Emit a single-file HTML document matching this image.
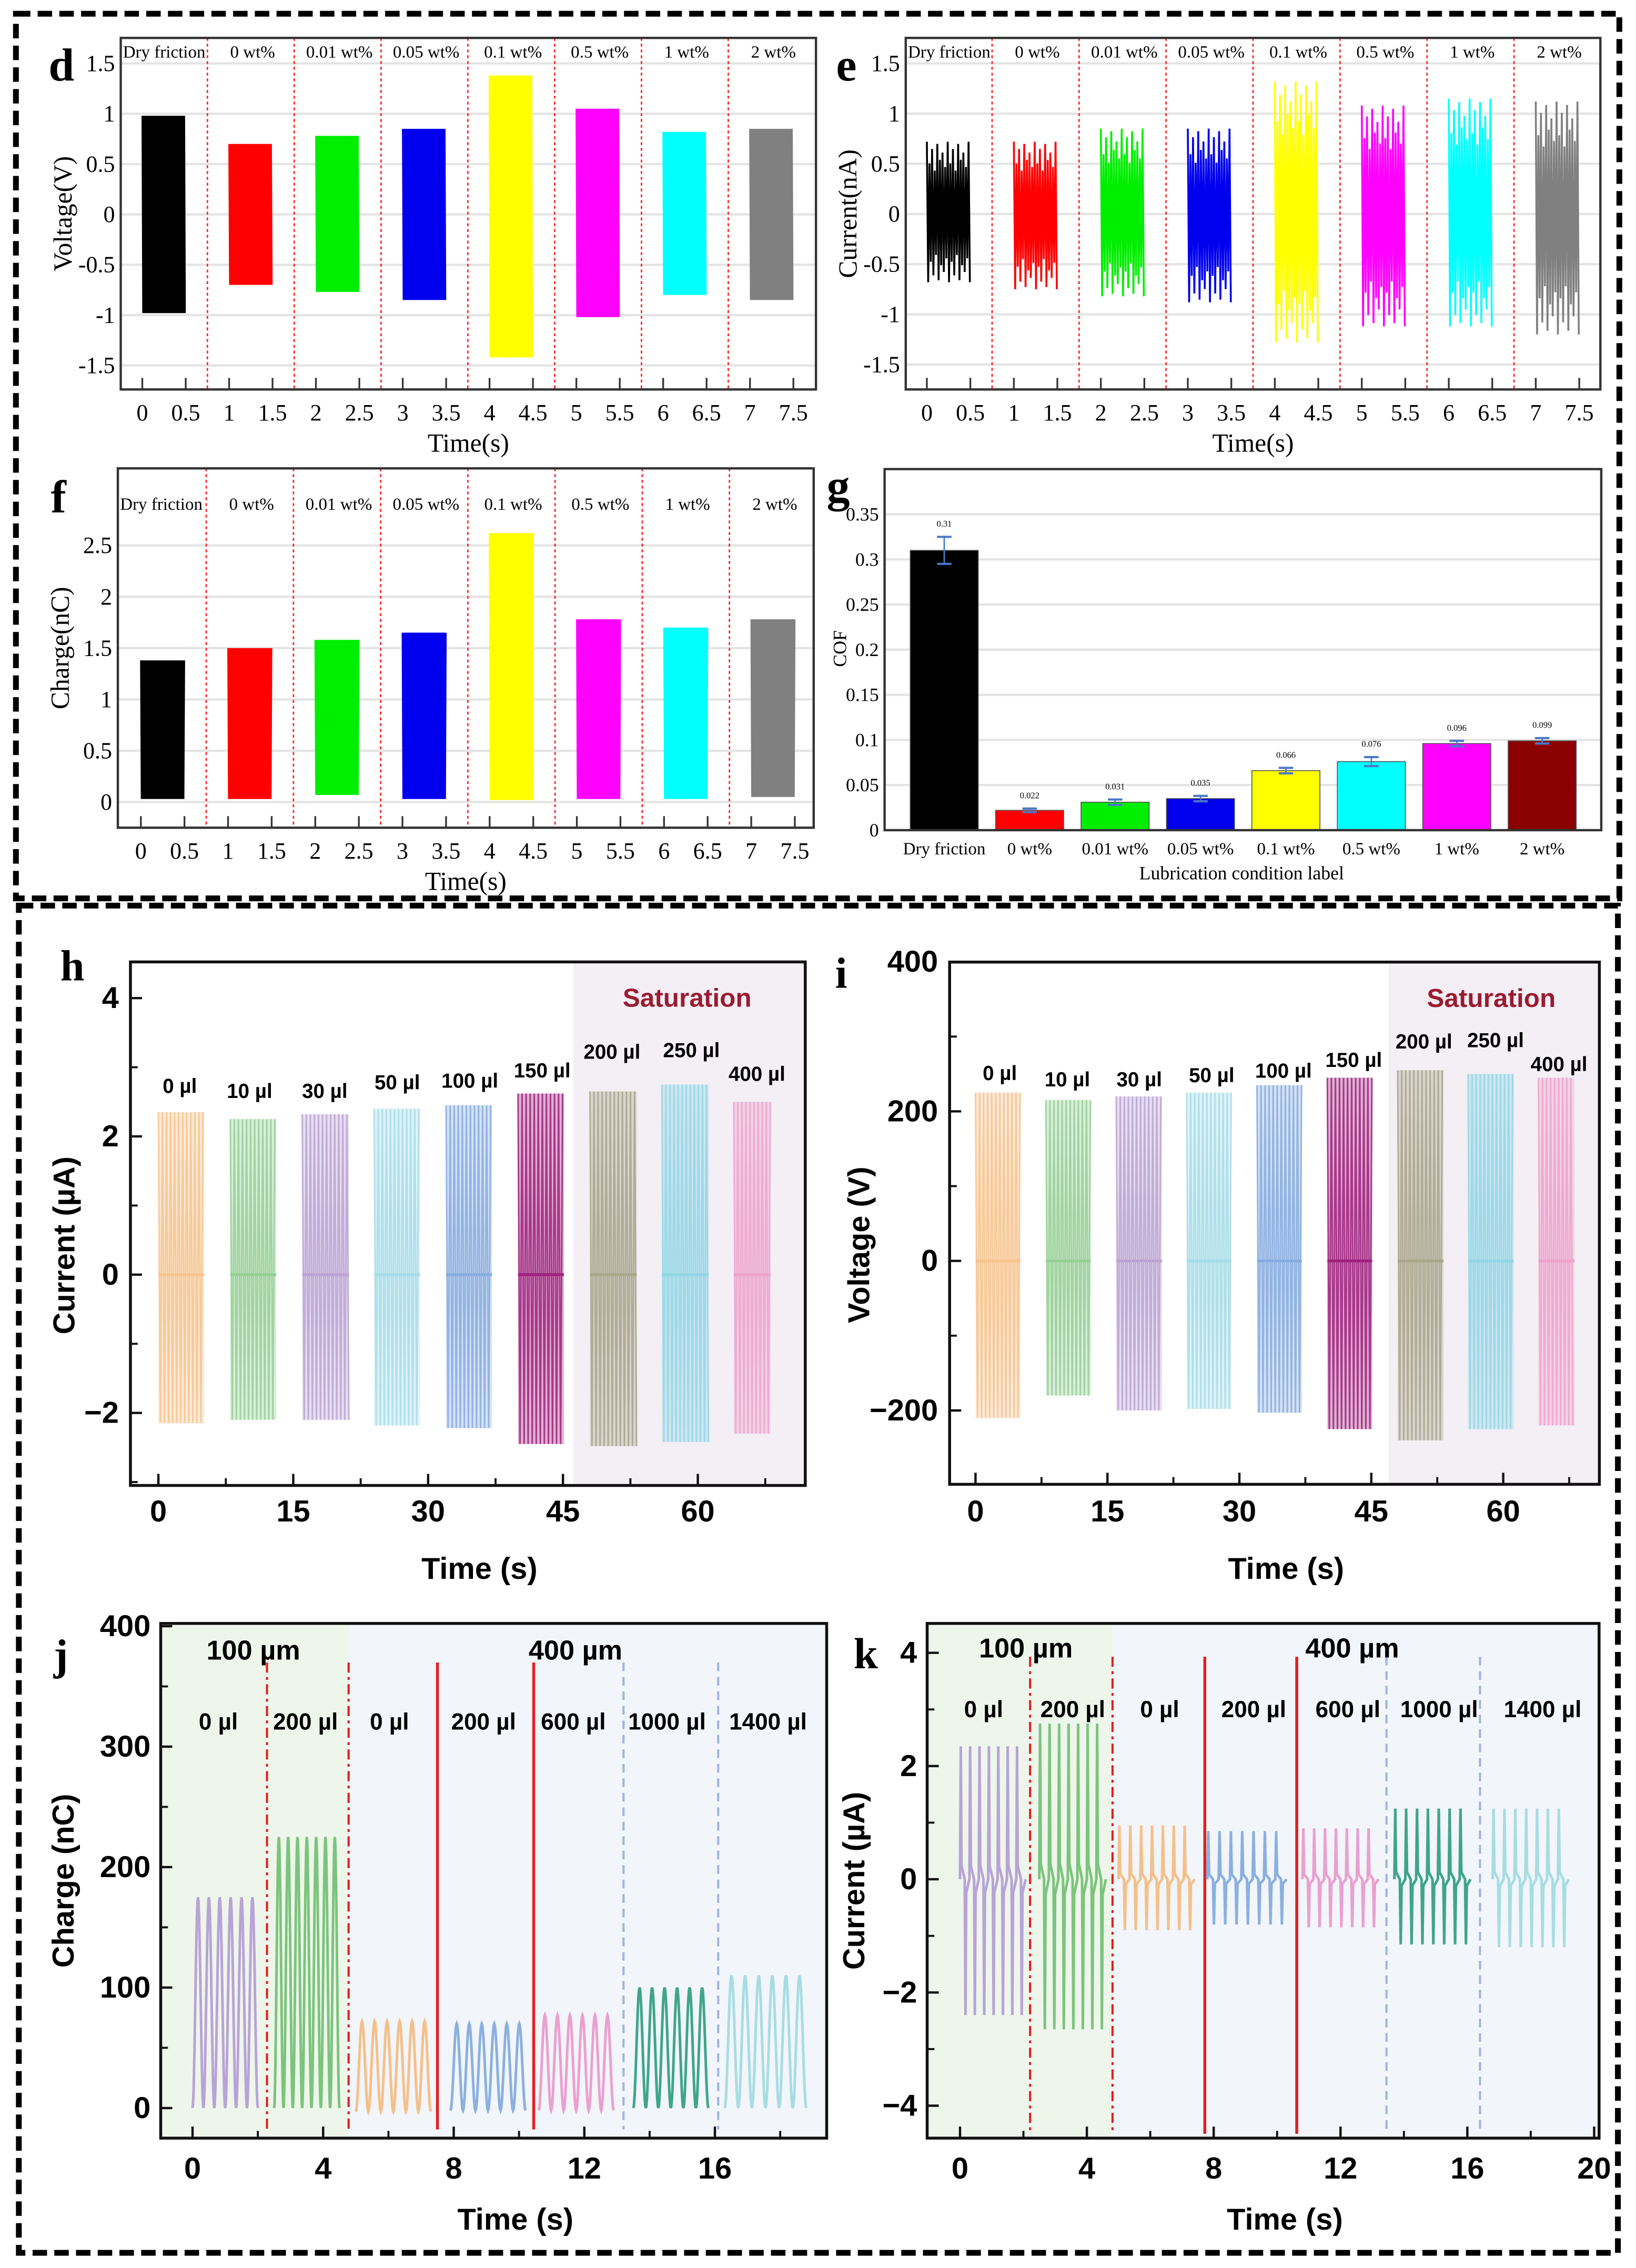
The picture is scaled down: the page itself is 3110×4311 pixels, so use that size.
<!DOCTYPE html>
<html><head><meta charset="utf-8">
<style>
html,body{margin:0;padding:0;background:#fff;}
svg{display:block;}
.serif{font-family:"Liberation Serif",serif;}
.sans{font-family:"Liberation Sans",sans-serif;font-weight:bold;}
</style></head>
<body>
<svg id="fig" xmlns="http://www.w3.org/2000/svg" width="3110" height="4311" viewBox="0 0 1130 1566.5" preserveAspectRatio="none">
<rect x="0" y="0" width="1130" height="1566.5" fill="#fff"/>
<rect x="11" y="9.5" width="1107.5" height="611" fill="none" stroke="#000" stroke-width="4" stroke-dasharray="10 5"/>
<rect x="13" y="625.5" width="1104.5" height="930.5" fill="none" stroke="#000" stroke-width="4" stroke-dasharray="10 5"/>
</svg>
<script>
// ---------- data ----------
const wtCats = ['Dry friction','0 wt%','0.01 wt%','0.05 wt%','0.1 wt%','0.5 wt%','1 wt%','2 wt%'];
const wtStart = [0,1,2,3,4,5,6,7];
const wtColors = ['#000000','#ff0000','#00ee00','#0000ee','#ffff00','#ff00ff','#00ffff','#808080'];
const dMax = [0.98,0.70,0.78,0.85,1.38,1.05,0.82,0.85];
const dMin = [-0.98,-0.70,-0.77,-0.85,-1.42,-1.02,-0.80,-0.85];
const eMax = [0.72,0.72,0.85,0.85,1.32,1.08,1.15,1.12];
const eMin = [-0.68,-0.75,-0.82,-0.88,-1.28,-1.12,-1.12,-1.20];
const fMax = [1.38,1.50,1.58,1.65,2.62,1.78,1.70,1.78];
const fMin = [0.03,0.03,0.07,0.03,0.02,0.03,0.03,0.05];
const topTicksX = [0,0.5,1,1.5,2,2.5,3,3.5,4,4.5,5,5.5,6,6.5,7,7.5];
const topTickLabelsX = ['0','0.5','1','1.5','2','2.5','3','3.5','4','4.5','5','5.5','6','6.5','7','7.5'];
const dTicksY = [1.5,1,0.5,0,-0.5,-1,-1.5];
const dTickLabelsY = ['1.5','1','0.5','0','-0.5','-1','-1.5'];
const fTicksY = [2.5,2,1.5,1,0.5,0];
const fTickLabelsY = ['2.5','2','1.5','1','0.5','0'];
const gVals = [0.31,0.022,0.031,0.035,0.066,0.076,0.096,0.099];
const gErr = [0.015,0.002,0.003,0.003,0.003,0.005,0.003,0.003];
const gValLabels = ['0.31','0.022','0.031','0.035','0.066','0.076','0.096','0.099'];
const gColors = ['#000000','#ff0000','#00ee00','#0000ee','#ffff00','#00ffff','#ff00ff','#8b0000'];
const gTicksY = [0,0.05,0.1,0.15,0.2,0.25,0.3,0.35];
const gTickLabelsY = ['0','0.05','0.1','0.15','0.2','0.25','0.3','0.35'];

const volCats = ['0 µl','10 µl','30 µl','50 µl','100 µl','150 µl','200 µl','250 µl','400 µl'];
const volStart = [0,8,16,24,32,40,48,56,64];
const volEnd = [5.1,13.1,21.2,29.1,37.1,45.1,53.2,61.2,68.1];
const volColors = ['#f6c48f','#95cf95','#bba3d3','#a6dce8','#86acdf','#a0227f','#a9a68b','#93d6e6','#eea3cc'];
const hMax = [2.35,2.25,2.32,2.40,2.45,2.62,2.65,2.75,2.50];
const hMin = [-2.15,-2.10,-2.10,-2.18,-2.22,-2.45,-2.48,-2.42,-2.30];
const iMax = [225,215,220,225,235,245,255,250,245];
const iMin = [-210,-180,-200,-198,-203,-225,-240,-225,-220];
const hiTicksX = [0,15,30,45,60];
const hiTickLabelsX = ['0','15','30','45','60'];
const hTicksY = [4,2,0,-2];
const hTickLabelsY = ['4','2','0','−2'];
const iTicksY = [400,200,0,-200];
const iTickLabelsY = ['400','200','0','−200'];

const gapCats = ['0 µl','200 µl','0 µl','200 µl','600 µl','1000 µl','1400 µl'];
const gapColors = ['#b8a3d6','#7cc47c','#f4c089','#8ab0e0','#eaa0cf','#3fa58a','#a6dde3'];
const jStart = [0,2.5,5.0,7.9,10.6,13.5,16.3];
const jEnd = [2.0,4.5,7.3,10.2,12.9,15.8,18.8];
const jMax = [175,225,72,70,77,100,110];
const jMin = [0,0,-3,-2,-2,0,0];
const jCycles = [6,7,6,6,6,6,6];
const jDividers = [2.28,4.78,7.5,10.45,13.2,16.1];
const kStart = [0,2.5,5.0,7.8,10.8,13.7,16.8];
const kEnd = [2.07,4.6,7.4,10.3,13.2,16.1,19.2];
const kMax = [2.35,2.75,0.95,0.85,0.90,1.25,1.25];
const kMin = [-2.40,-2.65,-0.90,-0.80,-0.85,-1.15,-1.20];
const kDividers = [2.21,4.81,7.72,10.62,13.45,16.4];
const dividerStyles = ['dashdot','dashdot','solid','solid','dashed','dashed'];
const jTicksX = [0,4,8,12,16];
const jTickLabelsX = ['0','4','8','12','16'];
const kTicksX = [0,4,8,12,16,20];
const kTickLabelsX = ['0','4','8','12','16','20'];
const jTicksY = [400,300,200,100,0];
const jTickLabelsY = ['400','300','200','100','0'];
const kTicksY = [4,2,0,-2,-4];
const kTickLabelsY = ['4','2','0','−2','−4'];

// ---------- helpers ----------
const NS='http://www.w3.org/2000/svg';
const svg=document.getElementById('fig');
function mk(tag,parent,name,attrs){
  const e=document.createElementNS(NS,tag);
  for(const k in attrs) e.setAttribute(k,attrs[k]);
  
  
  parent.appendChild(e);
  return e;
}
function txt(parent,name,x,y,s,size,cls,anchor,extra){
  const a={x:x,y:y,'font-size':size,'text-anchor':anchor||'middle','class':cls,'dominant-baseline':'central'};
  if(extra) for(const k in extra) a[k]=extra[k];
  const t=mk('text',parent,name,a);
  t.textContent=s;
  return t;
}
function lin(d0,d1,r0,r1){return v=>r0+(v-d0)*(r1-r0)/(d1-d0);}
function grp(name){return mk('g',svg,name,{});}

// ---------- top time panels (d, e, f) ----------
function topPanel(name,letter,L,R,T,B,xs,ys,ticksY,labelsY,yTitle,maxA,minA,mode){
  const g=grp(name);
  ticksY.forEach(v=>{mk('line',g,'gridline',{x1:L,x2:R,y1:ys(v),y2:ys(v),stroke:'#e4e4e4','stroke-width':1.6});});
  for(let i=0;i<7;i++){const x=xs(i+0.75);mk('line',g,'condition-divider',{x1:x,x2:x,y1:T,y2:B,stroke:'#ff2020','stroke-width':1,'stroke-dasharray':'2 2'});}
  for(let i=0;i<8;i++){
    const x0=xs(wtStart[i]), x1=xs(wtStart[i]+0.5);
    let d='';const step=mode==='e'?0.9:0.5;let k=0;
    const mods=[1,0.7,0.9,0.6,0.97,0.75,0.85,0.65];
    for(let x=x0;x<=x1;x+=step){
      const m=mode==='e'?mods[Math.floor(k/2)%8]:1;
      const v=(k%2===0)?maxA[i]*(mode==='e'?m:1):minA[i]*(mode==='e'?m:1);
      d+=(k===0?'M':'L')+x.toFixed(2)+','+ys(v).toFixed(2);k++;
    }
    mk('path',g,'signal-'+wtCats[i].replace(/[ .%]/g,'').toLowerCase(),{d:d,fill:'none',stroke:wtColors[i],'stroke-width':mode==='e'?1.3:1.1});
  }
  mk('rect',g,'plot-frame',{x:L,y:T,width:R-L,height:B-T,fill:'none',stroke:'#333','stroke-width':1.6});
  topTicksX.forEach((v,i)=>{
    mk('line',g,'x-tick',{x1:xs(v),x2:xs(v),y1:B,y2:B-8,stroke:'#333','stroke-width':1.2});
    txt(g,'x-tick-label',xs(v),B+16,topTickLabelsX[i],16,'serif');
  });
  ticksY.forEach((v,i)=>{txt(g,'y-tick-label',L-4,ys(v),labelsY[i],16,'serif','end');});
  wtCats.forEach((c,i)=>{txt(g,'condition-label',i===0?L+30:xs(i+0.27),T+(name==='panel-f'?25:10),c,12,'serif');});
  txt(g,'x-axis-title',(L+R)/2,B+37,'Time(s)',18,'serif');
  txt(g,'y-axis-title',L-40,(T+B)/2,yTitle,18,'serif','middle',{transform:'rotate(-90 '+(L-40)+' '+((T+B)/2)+')'});
  txt(g,'panel-letter',L-41,T+(name==='panel-f'?20:19),letter,32,'serif','middle',{'font-weight':'bold'});
}
topPanel('panel-d','d',83.4,563.6,26.2,269,lin(0,7.5,98.3,548),lin(0,1.5,148.1,43.8),dTicksY,dTickLabelsY,'Voltage(V)',dMax,dMin,'d');
topPanel('panel-e','e',625.6,1105.4,26.2,269,lin(0,7.5,640.2,1090.8),lin(0,1.5,147.8,43.8),dTicksY,dTickLabelsY,'Current(nA)',eMax,eMin,'e');
topPanel('panel-f','f',81.4,562,323.5,571.7,lin(0,7.5,97.3,549),lin(0,2.5,554,376.7),fTicksY,fTickLabelsY,'Charge(nC)',fMax,fMin,'f');

// ---------- panel g (bar chart) ----------
(function(){
  const g=grp('panel-g');
  const L=611,R=1106,T=324,B=573.4;
  const ys=lin(0,0.35,573.4,355.2);
  const xc=i=>652.2+i*59.0;
  gTicksY.forEach(v=>{if(v>0)mk('line',g,'gridline',{x1:L,x2:R,y1:ys(v),y2:ys(v),stroke:'#e4e4e4','stroke-width':1.6});});
  gVals.forEach((v,i)=>{
    mk('rect',g,'bar-'+wtCats[i].replace(/[ .%]/g,'').toLowerCase(),{x:xc(i)-23.5,y:ys(v),width:47,height:B-ys(v),fill:gColors[i],stroke:'#555','stroke-width':0.6});
    const e1=ys(v+gErr[i]),e2=ys(v-gErr[i]);
    mk('line',g,'error-bar',{x1:xc(i),x2:xc(i),y1:e1,y2:e2,stroke:'#4a78c8','stroke-width':1});
    mk('line',g,'error-cap',{x1:xc(i)-5,x2:xc(i)+5,y1:e1,y2:e1,stroke:'#4a78c8','stroke-width':1.5});
    mk('line',g,'error-cap',{x1:xc(i)-5,x2:xc(i)+5,y1:e2,y2:e2,stroke:'#4a78c8','stroke-width':1.5});
    txt(g,'value-label',xc(i),e1-9,gValLabels[i],6,'serif');
    txt(g,'x-tick-label',xc(i),586.4,wtCats[i],12,'serif');
  });
  mk('rect',g,'plot-frame',{x:L,y:T,width:R-L,height:B-T,fill:'none',stroke:'#333','stroke-width':1.6});
  gTicksY.forEach((v,i)=>{txt(g,'y-tick-label',L-4,ys(v),gTickLabelsY[i],13,'serif','end');});
  txt(g,'x-axis-title',857.6,603,'Lubrication condition label',13,'serif');
  txt(g,'y-axis-title',580,448,'COF',13,'serif','middle',{transform:'rotate(-90 580 448)'});
  txt(g,'panel-letter',579,336,'g',32,'serif','middle',{'font-weight':'bold'});
})();

// ---------- panels h, i ----------
function volPanel(name,letter,L,R,T,B,xs,ys,ticksY,labelsY,minorY,yTitle,maxA,minA,labelPos,satX,satPos,titleX){
  const g=grp(name);
  mk('rect',g,'saturation-region',{x:satX,y:T,width:R-satX,height:B-T,fill:'#f3eff5'});
  for(let i=0;i<9;i++){
    const x0=xs(volStart[i]),x1=xs(volEnd[i]);
    mk('rect',g,'signal-haze',{x:x0,y:ys(maxA[i]),width:x1-x0,height:ys(minA[i])-ys(maxA[i]),fill:volColors[i],opacity:0.35});
    let d='';let k=0;
    for(let x=x0;x<=x1;x+=1.4){
      const v=(k%2===0)?maxA[i]:minA[i];
      d+=(k===0?'M':'L')+x.toFixed(2)+','+ys(v).toFixed(2);k++;
    }
    mk('path',g,'signal-'+volCats[i].replace(/[ µ]/g,'')+'ul',{d:d,fill:'none',stroke:volColors[i],'stroke-width':1.1,opacity:0.85});
    mk('line',g,'baseline',{x1:x0,x2:x1,y1:ys(0),y2:ys(0),stroke:volColors[i],'stroke-width':2});
    txt(g,'volume-label',labelPos[i][0],labelPos[i][1],volCats[i],14,'sans');
  }
  mk('rect',g,'plot-frame',{x:L,y:T,width:R-L,height:B-T,fill:'none',stroke:'#111','stroke-width':2});
  hiTicksX.forEach((v,i)=>{
    mk('line',g,'x-tick',{x1:xs(v),x2:xs(v),y1:B,y2:B-8,stroke:'#111','stroke-width':1.6});
    mk('line',g,'x-minor-tick',{x1:xs(v+7.5),x2:xs(v+7.5),y1:B,y2:B-5,stroke:'#111','stroke-width':1.4});
    txt(g,'x-tick-label',xs(v),1044,hiTickLabelsX[i],21,'sans');
  });
  ticksY.forEach((v,i)=>{
    mk('line',g,'y-tick',{x1:L,x2:L+8,y1:ys(v),y2:ys(v),stroke:'#111','stroke-width':1.6});
    txt(g,'y-tick-label',L-8,ys(v),labelsY[i],21,'sans','end');
  });
  minorY.forEach(v=>{mk('line',g,'y-minor-tick',{x1:L,x2:L+5,y1:ys(v),y2:ys(v),stroke:'#111','stroke-width':1.4});});
  txt(g,'saturation-label',satPos[0],satPos[1],'Saturation',18,'sans','middle',{fill:'#9b1b30'});
  txt(g,'x-axis-title',(L+R)/2+8,1083.5,'Time (s)',21,'sans');
  txt(g,'y-axis-title',titleX,(T+B)/2+15,yTitle,21,'sans','middle',{transform:'rotate(-90 '+titleX+' '+((T+B)/2+15)+')'});
  txt(g,'panel-letter',letter==='h'?50:581,letter==='h'?667:672,letter,30,'serif','middle',{'font-weight':'bold'});
}
volPanel('panel-h','h',90.1,556.2,664.4,1026,lin(0,60,109.4,482),lin(0,2,880.4,784.9),hTicksY,hTickLabelsY,[3,1,-1,-3],'Current (µA)',hMax,hMin,
 [[124.2,750.3],[172.4,753.9],[224.3,753.9],[274.4,747.9],[324.5,746.7],[374.5,739.7],[422.7,726.8],[477.6,725.6],[522.8,742.1]],396,[474.6,689.4],44.5);
volPanel('panel-i','i',655.9,1104.7,664.5,1025.2,lin(0,60,673.8,1038.3),lin(0,200,870.9,767.6),iTicksY,iTickLabelsY,[300,100,-100],'Voltage (V)',iMax,iMin,
 [[690.6,741.4],[737.2,745.9],[786.9,745.9],[836.9,742.9],[886.5,739.9],[935,732.3],[983.5,719.7],[1033,718.8],[1076.8,735.3]],959.2,[1030,689.5],593.6);

// ---------- panels j, k ----------
function gapPanel(name,letter,L,R,T,B,xs,ys,ticksX,labelsX,ticksY,labelsY,minorY,yTitle,starts,ends,maxA,minA,dividers,labX,mode,titleX,letterPos){
  const g=grp(name);
  mk('rect',g,'plot-background',{x:L,y:T,width:R-L,height:B-T,fill:'#f2f5fa'});
  mk('rect',g,'region-100um',{x:L,y:T,width:xs(dividers[1])-L,height:B-T,fill:'#eef6ec'});
  dividers.forEach((s,i)=>{
    const st=dividerStyles[i];
    const a={x1:xs(s),x2:xs(s),y1:T+(mode==='j'?27:23),y2:B-(mode==='j'?6:3),'stroke-width':st==='solid'?2:1.5,stroke:st==='dashed'?'#9fb4e0':'#e02020'};
    if(st==='dashdot')a['stroke-dasharray']='7 3 2 3';
    if(st==='dashed')a['stroke-dasharray']='6 4';
    mk('line',g,'divider-'+st,a);
  });
  for(let i=0;i<7;i++){
    let d='';
    if(mode==='j'){
      const n=jCycles[i];const N=n*24;
      for(let p=0;p<=N;p++){
        const t=p/N;const ph=t*n;
        const v=minA[i]+(maxA[i]-minA[i])*(1-Math.cos(2*Math.PI*ph))/2;
        d+=(p===0?'M':'L')+xs(starts[i]+t*(ends[i]-starts[i])).toFixed(2)+','+ys(v).toFixed(2);
      }
    }else{
      const n=7;const w=(ends[i]-starts[i])/n;
      const shape=[[0,0],[0.08,1],[0.16,0.1],[0.5,0],[0.58,-1],[0.66,-0.1],[1,0]];
      for(let c=0;c<n;c++){shape.forEach((p,j)=>{
        if(c>0&&j===0)return;
        const val=p[1]>=0?maxA[i]*p[1]:minA[i]*(-p[1]);
        d+=(d===''?'M':'L')+xs(starts[i]+(c+p[0])*w).toFixed(2)+','+ys(val).toFixed(2);
      });}
    }
    mk('path',g,'signal-'+i,{d:d,fill:'none',stroke:gapColors[i],'stroke-width':1.8});
    txt(g,'volume-label',labX[i],mode==='j'?1189.4:1180.7,gapCats[i],16,'sans');
  }
  mk('rect',g,'plot-frame',{x:L,y:T,width:R-L,height:B-T,fill:'none',stroke:'#111','stroke-width':2});
  ticksX.forEach((v,i)=>{
    mk('line',g,'x-tick',{x1:xs(v),x2:xs(v),y1:B,y2:B-8,stroke:'#111','stroke-width':1.6});
    mk('line',g,'x-minor-tick',{x1:xs(v+2),x2:xs(v+2),y1:B,y2:B-5,stroke:'#111','stroke-width':1.4});
    txt(g,'x-tick-label',xs(v),B+21,labelsX[i],21,'sans');
  });
  ticksY.forEach((v,i)=>{
    mk('line',g,'y-tick',{x1:L,x2:L+8,y1:ys(v),y2:ys(v),stroke:'#111','stroke-width':1.6});
    txt(g,'y-tick-label',L-7,ys(v),labelsY[i],21,'sans','end');
  });
  minorY.forEach(v=>{mk('line',g,'y-minor-tick',{x1:L,x2:L+5,y1:ys(v),y2:ys(v),stroke:'#111','stroke-width':1.4});});
  txt(g,'group-label-100um',mode==='j'?175:708.6,mode==='j'?1140:1138.7,'100 µm',19,'sans');
  txt(g,'group-label-400um',mode==='j'?397.5:934,mode==='j'?1140:1138.7,'400 µm',19,'sans');
  txt(g,'x-axis-title',(L+R)/2+15,1533,'Time (s)',21,'sans');
  txt(g,'y-axis-title',titleX,(T+B)/2,yTitle,21,'sans','middle',{transform:'rotate(-90 '+titleX+' '+((T+B)/2)+')'});
  txt(g,'panel-letter',letterPos[0],letterPos[1],letter,30,'serif','middle',{'font-weight':'bold'});
}
gapPanel('panel-j','j',111,571,1121.3,1476.8,lin(0,4,133,223.2),lin(0,100,1456,1372.8),jTicksX,jTickLabelsX,jTicksY,jTickLabelsY,[350,250,150,50],'Charge (nC)',
  jStart,jEnd,jMax,jMin,jDividers,[150.8,211,269,334,396,460.7,530.5],'j',44,[42,1143]);
gapPanel('panel-k','k',640.4,1104.5,1121.3,1476.8,lin(0,4,663.1,750.7),lin(0,2,1298,1219.8),kTicksX,kTickLabelsX,kTicksY,kTickLabelsY,[3,1,-1,-3],'Current (µA)',
  kStart,kEnd,kMax,kMin,kDividers,[679.4,741,801,866,931,994,1065.5],'k',590,[598,1142]);
</script>
</body></html>
